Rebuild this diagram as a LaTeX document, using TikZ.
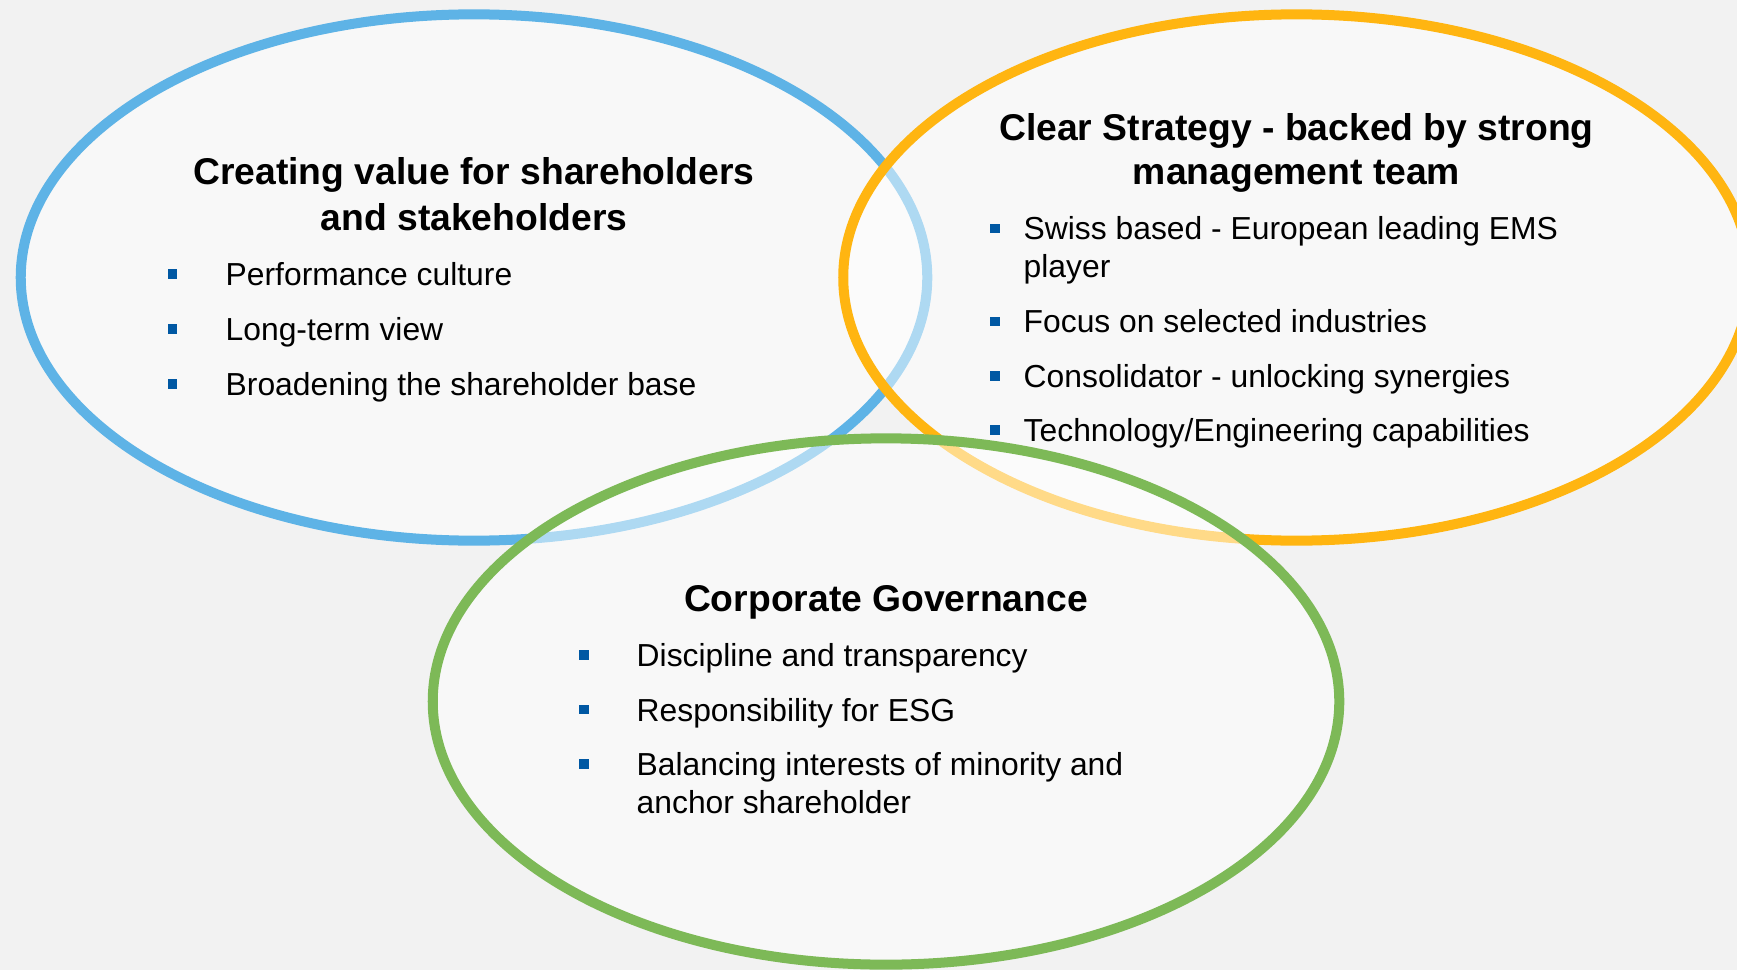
\documentclass[tikz,border=0pt]{standalone}
\usepackage{fontspec}
\setmainfont{Liberation Sans}
\usepackage{tikz}
\usetikzlibrary{shapes}

\definecolor{ringBlue}{RGB}{94,179,230}
\definecolor{ringOrange}{RGB}{255,181,17}
\definecolor{ringGreen}{RGB}{125,185,87}
\definecolor{bulletBlue}{RGB}{0,88,163}
\definecolor{slideGray}{RGB}{242,242,242}

\tikzstyle{ring} = [ellipse, minimum width=9.06cm, minimum height=5.26cm, inner sep=0pt,
line width=0.1cm, fill=white, fill opacity=0.5, draw opacity=1]
\tikzstyle{heading} = [anchor=base, inner sep=0pt, font=\fontsize{10.6}{12.7}\selectfont\bfseries]
\tikzstyle{item} = [anchor=base west, inner sep=0pt, font=\fontsize{9.05}{10.7}\selectfont]
\tikzstyle{square} = [rectangle, fill=bulletBlue, minimum size=0.095cm, inner sep=0pt]

\begin{document}
\begin{tikzpicture}[x=0.01cm, y=-0.01cm]

    \fill[slideGray] (0,0) rectangle (1737,970);
    \useasboundingbox (0,0) rectangle (1737,970);

    % the three rings, drawn in this order
    \node (valueRing) [ring, draw=ringBlue] at (474,277.5) {};
    \node (strategyRing) [ring, draw=ringOrange] at (1296.5,277.5) {};
    \node (governanceRing) [ring, draw=ringGreen] at (886,701.5) {};

    % left ring
    \node (valueTitle) [heading] at (474,185) {Creating value for shareholders};
    \node (valueTitleB) [heading] at (474,230) {and stakeholders};
    \node (valueDot1) [square] at (172.5,274) {};
    \node (valueDot2) [square] at (172.5,329) {};
    \node (valueDot3) [square] at (172.5,384) {};
    \node (valueItem1) [item] at (225,285.5) {Performance culture};
    \node (valueItem2) [item] at (225,340.5) {Long-term view};
    \node (valueItem3) [item] at (225,395.5) {Broadening the shareholder base};

    % right ring
    \node (strategyTitle) [heading] at (1296.5,140) {Clear Strategy - backed by strong};
    \node (strategyTitleB) [heading] at (1296.5,184.5) {management team};
    \node (strategyDot1) [square] at (995,228.5) {};
    \node (strategyDot2) [square] at (995,321.5) {};
    \node (strategyDot3) [square] at (995,376) {};
    \node (strategyDot4) [square] at (995,430) {};
    \node (strategyItem1) [item] at (1023,239.5) {Swiss based - European leading EMS};
    \node (strategyItem1b) [item] at (1023,277) {player};
    \node (strategyItem2) [item] at (1023,332.5) {Focus on selected industries};
    \node (strategyItem3) [item] at (1023,387) {Consolidator - unlocking synergies};
    \node (strategyItem4) [item] at (1023,441) {Technology/Engineering capabilities};

    % bottom ring
    \node (governanceTitle) [heading] at (886,611.5) {Corporate Governance};
    \node (governanceDot1) [square] at (584,655) {};
    \node (governanceDot2) [square] at (584,709.5) {};
    \node (governanceDot3) [square] at (584,764) {};
    \node (governanceItem1) [item] at (636,666.5) {Discipline and transparency};
    \node (governanceItem2) [item] at (636,721) {Responsibility for ESG};
    \node (governanceItem3) [item] at (636,775.5) {Balancing interests of minority and};
    \node (governanceItem3b) [item] at (636,813) {anchor shareholder};

\end{tikzpicture}
\end{document}
